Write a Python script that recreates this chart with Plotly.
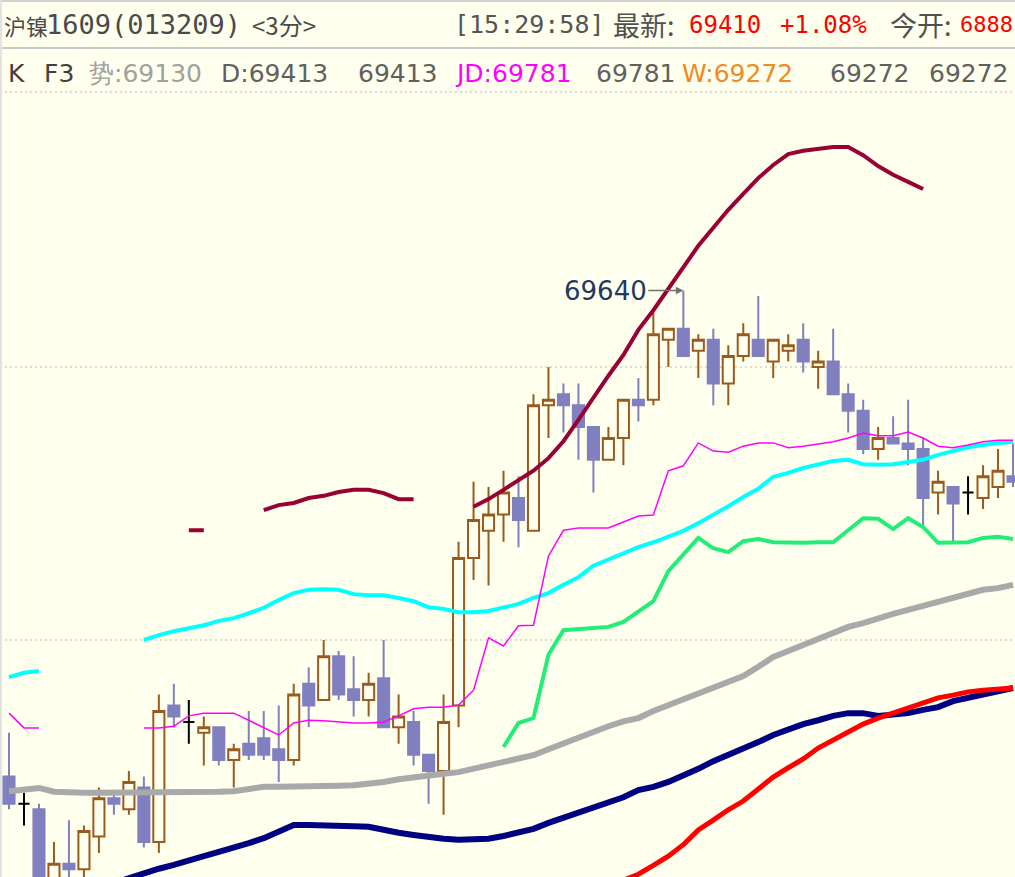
import plotly.graph_objects as go

# ---------------- data ----------------
idx = list(range(68))
doji_idx = [1, 12, 64]

opens  = [68750,68700,68690,68550,68590,68580,68640,68710,68690,68730,
          68630,68880,68850,68830,68840,68780,68810,68820,68800,68780,
          68920,68890,68970,68910,68890,68930,68840,68850,68790,68760,
          68880,69150,69200,69230,69260,69200,69430,69450,69430,69390,
          69330,69370,69440,69440,69550,69570,69530,69550,69470,69520,
          69550,69510,69530,69550,69500,69510,69450,69420,69350,69370,
          69360,69350,69270,69280,69270,69260,69280,69300]
highs  = [68830,68720,68700,68630,68670,68660,68730,68720,68760,68750,
          68900,68920,68890,68860,68840,68810,68870,68870,68880,68920,
          68950,69000,68980,68970,68940,69000,68900,68870,68790,68900,
          69180,69290,69280,69310,69300,69450,69500,69470,69470,69390,
          69390,69440,69480,69600,69570,69640,69560,69570,69540,69580,
          69630,69550,69560,69580,69530,69570,69470,69440,69390,69410,
          69440,69370,69310,69280,69300,69320,69350,69360]
lows   = [68690,68660,68530,68540,68550,68550,68610,68680,68680,68620,
          68610,68840,68810,68770,68770,68730,68780,68780,68740,68770,
          68840,68890,68890,68860,68860,68840,68810,68770,68700,68680,
          68840,69110,69100,69180,69170,69200,69370,69380,69330,69270,
          69330,69320,69400,69430,69500,69520,69480,69430,69430,69510,
          69520,69480,69510,69490,69460,69450,69380,69340,69330,69360,
          69320,69210,69230,69180,69230,69240,69260,69280]
closes = [68700,68700,68540,68590,68580,68650,68710,68700,68740,68630,
          68870,68860,68850,68840,68780,68800,68790,68790,68780,68900,
          68880,68970,68900,68890,68920,68840,68860,68790,68760,68850,
          69150,69220,69230,69270,69220,69430,69440,69430,69390,69330,
          69370,69440,69430,69560,69570,69520,69550,69470,69520,69560,
          69520,69550,69540,69510,69510,69450,69420,69350,69370,69360,
          69350,69260,69290,69250,69270,69300,69310,69290]

N = None
maroon_line = [N]*12 + [69201, 69201] + [N]*3 + \
    [69238,69247,69251,69260,69264,69271,69275,69275,69269,69258,69258] + [N]*3 + \
    [69244,69258,69275,69293,69310,69333,69364,69403,69445,69484,
     69522,69568,69604,69643,69683,69722,69755,69788,69817,69846,
     69870,69890,69896,69899,69903,69903,69888,69868,69852,69839,69826] + [N]*6
cyan_line = [68932,68940,68943] + [N]*6 + \
    [69000,69009,69016,69022,69027,69035,69040,69049,69059,69073,
     69086,69092,69093,69092,69084,69082,69082,69077,69071,69060,
     69057,69051,69051,69053,69060,69066,69077,69086,69101,69115,
     69136,69147,69159,69170,69179,69189,69200,69214,69229,69245,
     69262,69277,69299,69306,69315,69322,69328,69330,69322,69321,
     69322,69326,69330,69339,69346,69353,69357,69361,69363]
magenta_line = [68866,68839,68839] + [N]*6 + \
    [68839,68839,68842,68861,68866,68866,68866,68853,68839,68826,
     68848,68853,68852,68850,68848,68848,68850,68861,68874,68877,
     68877,68881,68908,69004,68989,69026,69027,69154,69201,69205,
     69205,69205,69216,69227,69229,69310,69319,69361,69346,69344,
     69355,69361,69361,69352,69355,69359,69363,69370,69379,69374,
     69374,69381,69370,69355,69352,69357,69363,69366,69366]
green_line = [N]*33 + \
    [68804,68848,68857,68973,69018,69020,69022,69024,69033,69053,
     69071,69126,69156,69187,69168,69161,69181,69185,69179,69178,
     69178,69179,69179,69201,69223,69222,69203,69223,69207,69178,
     69178,69179,69187,69189,69185]
gray_line = [68723,68727,68729,68722] + [68720]*10 + \
    [68722,68723,68727,68731,68731,68731,68731,68731,68733,68734,
     68736,68740,68745,68749,68753,68755,68758,68764,68771,68777,
     68784,68789,68800,68811,68822,68833,68842,68851,68857,68870,
     68881,68890,68901,68912,68923,68934,68951,68969,68980,68991,
     69002,69013,69024,69031,69040,69048,69055,69062,69070,69077,
     69084,69092,69095,69101]
navy_line = [N]*7 + \
    [68555,68564,68573,68581,68588,68597,68604,68612,68619,68628,
     68637,68648,68661,68661,68661,68661,68659,68658,68652,68647,
     68643,68639,68636,68634,68634,68636,68641,68647,68654,68665,
     68674,68683,68692,68703,68712,68725,68731,68740,68751,68764,
     68778,68789,68800,68813,68826,68837,68846,68853,68861,68866,
     68866,68861,68863,68866,68872,68877,68888,68894,68901,68907,68912]
red_line = [N]*41 + \
    [68560,68571,68587,68604,68625,68652,68670,68689,68705,68727,
     68749,68766,68782,68802,68817,68833,68846,68857,68866,68877,
     68885,68894,68899,68905,68908,68910,68912]

grid_levels = [69500, 69000]
high_mark_idx = 45
high_mark_val = 69640

CJK = "Noto Sans CJK SC"
MONO = "DejaVu Sans Mono"
SANS = "DejaVu Sans"
# (text, x-pixel, colour, font, size)
header_row1 = [("沪镍", 2, "#4A4A4A", CJK, 22),
               ("1609(013209)", 44, "#4A4A4A", MONO, 27),
               ("<3分>", 250, "#4A4A4A", CJK, 24),
               ("[15:29:58]", 452, "#555555", MONO, 25),
               ("最新:", 611, "#505050", CJK, 27),
               ("69410", 687, "#FF0000", MONO, 24),
               ("+1.08%", 778, "#FF0000", MONO, 24),
               ("今开:", 888, "#505050", CJK, 27),
               ("6888", 958, "#FF0000", MONO, 22)]
header_row2 = [("K", 6, "#404040"),
               ("F3", 42, "#404040"),
               ("势:69130", 87, "#A0A0A0"),
               ("D:69413", 219, "#606060"),
               ("69413", 356, "#606060"),
               ("JD:69781", 453, "#FF00FF"),
               ("69781", 594, "#606060"),
               ("W:69272", 680, "#F08A24"),
               ("69272", 828, "#606060"),
               ("69272", 927, "#606060")]

# ---------------- styling ----------------
W, H = 1015, 877
BG = "#FFFFEE"
BROWN = "#9A5A1E"
BLUE = "#8080C0"

fig = go.Figure()

main = [i for i in idx if i not in doji_idx]
fig.add_trace(go.Candlestick(
    x=[idx[i] for i in main], open=[opens[i] for i in main],
    high=[highs[i] for i in main], low=[lows[i] for i in main],
    close=[closes[i] for i in main],
    increasing=dict(line=dict(color=BROWN, width=2), fillcolor=BG),
    decreasing=dict(line=dict(color=BLUE, width=2), fillcolor=BLUE),
    whiskerwidth=0, hoverinfo="skip", showlegend=False))
fig.add_trace(go.Candlestick(
    x=[idx[i] for i in doji_idx], open=[opens[i] for i in doji_idx],
    high=[highs[i] for i in doji_idx], low=[lows[i] for i in doji_idx],
    close=[closes[i] for i in doji_idx],
    increasing=dict(line=dict(color="#000000", width=2), fillcolor="#000000"),
    decreasing=dict(line=dict(color="#000000", width=2), fillcolor="#000000"),
    whiskerwidth=0, hoverinfo="skip", showlegend=False))

lines = [
    (gray_line, "#A9A9A9", 6),
    (navy_line, "#000080", 6),
    (red_line, "#FF0000", 5),
    (cyan_line, "#00FFFF", 4),
    (green_line, "#22EE77", 4),
    (magenta_line, "#FF00FF", 1.5),
    (maroon_line, "#990033", 4),
]
for vals, col, w in lines:
    fig.add_trace(go.Scatter(x=idx, y=vals, mode="lines",
                             line=dict(color=col, width=w),
                             connectgaps=False, hoverinfo="skip",
                             showlegend=False))

shapes = []
for lv in grid_levels:
    shapes.append(dict(type="line", xref="paper", x0=0, x1=1, yref="y",
                       y0=lv, y1=lv, line=dict(color="#BBBBBB", width=1,
                                               dash="2px,3px"),
                       layer="below"))
# header separators / borders
shapes.append(dict(type="line", xref="paper", x0=0, x1=1, yref="paper",
                   y0=1 - 1 / H, y1=1 - 1 / H,
                   line=dict(color="#D0D0D0", width=2)))
shapes.append(dict(type="line", xref="paper", x0=0, x1=1, yref="paper",
                   y0=1 - 48 / H, y1=1 - 48 / H,
                   line=dict(color="#C8C8C8", width=2)))
shapes.append(dict(type="line", xref="paper", x0=0, x1=1, yref="paper",
                   y0=1 - 92 / H, y1=1 - 92 / H,
                   line=dict(color="#BBBBBB", width=1, dash="2px,3px")))
shapes.append(dict(type="line", xref="paper", x0=0.001, x1=0.001,
                   yref="paper", y0=0, y1=1,
                   line=dict(color="#E2E2E2", width=2)))

annotations = []
for txt, px, col, fam, sz in header_row1:
    annotations.append(dict(text=txt, x=px / W, y=1 - 25 / H, xref="paper",
                            yref="paper", xanchor="left", yanchor="middle",
                            showarrow=False,
                            font=dict(family=fam, size=sz, color=col)))
for txt, px, col in header_row2:
    annotations.append(dict(text=txt, x=px / W, y=1 - 73 / H, xref="paper",
                            yref="paper", xanchor="left", yanchor="middle",
                            showarrow=False,
                            font=dict(family=SANS, size=25, color=col)))
annotations.append(dict(x=high_mark_idx, y=high_mark_val, xref="x", yref="y",
                        text=str(high_mark_val), showarrow=True,
                        ax=-78, ay=0, arrowhead=2, arrowsize=1,
                        arrowwidth=1.5, arrowcolor="#707070", standoff=0,
                        font=dict(family=SANS, size=26, color="#1F3A5F")))

fig.update_layout(
    width=W, height=H,
    margin=dict(l=0, r=0, t=0, b=0),
    paper_bgcolor=BG, plot_bgcolor=BG,
    showlegend=False,
    boxmode="overlay", boxgap=0.26, boxgroupgap=0.0,
    xaxis=dict(range=[-0.6006, 67.133], visible=False,
               rangeslider=dict(visible=False), fixedrange=True),
    yaxis=dict(range=[68565.9, 70172.2], visible=False, fixedrange=True),
    shapes=shapes, annotations=annotations,
)

fig.write_html("out.html", config={"displayModeBar": False},
               post_script="document.body.style.margin='0px';"
                           "document.body.style.padding='0px';"
                           "document.body.style.overflow='hidden';")
